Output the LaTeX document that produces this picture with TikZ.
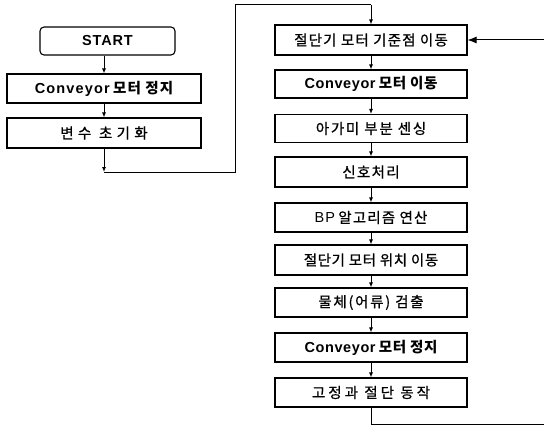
\documentclass[tikz,border=0pt]{standalone}
\usepackage{fontspec}
\setmainfont{Noto Sans CJK KR}[UprightFeatures={FakeBold=0.8}]
\newfontfamily\latfont{Liberation Sans}
\usetikzlibrary{arrows.meta}
\newcommand\lsp[2]{{\addfontfeatures{LetterSpace=#1}#2}}
\newcommand\lat[2]{{\latfont\addfontfeatures{LetterSpace=#1}#2}}
\tikzset{
  fbox/.style={draw, line width=1.1pt, minimum height=29pt, inner sep=0pt,
    font=\fontsize{14.5}{16}\selectfont},
  lbox/.style={fbox, minimum width=194pt},
  rbox/.style={fbox, minimum width=192pt},
  conn/.style={line width=1pt},
  arr/.style={conn, -{Latex[length=5pt,width=4pt]}},
  bigarr/.style={conn, -{Latex[length=9pt,width=7pt]}}
}
\begin{document}
\begin{tikzpicture}[x=1pt,y=-1pt]
\useasboundingbox (0,0) rectangle (544,428);
% left column
\node[fbox, rounded corners=4pt, minimum width=135pt, minimum height=28pt] (start) at (107.5,41) {\bfseries\lat{6}{START}};
\node[lbox] (cstop1) at (104,88.5) {\bfseries\lat{8}{Conveyor} \lsp{8}{모터 정지}};
\node[lbox, minimum height=30pt] (init) at (104,133) {\lsp{30}{변수 초기화}};
% right column
\node[rbox, minimum height=30pt] (r1) at (371,40) {\lsp{8}{절단기 모터 기준점 이동}};
\node[rbox, minimum height=28pt] (r2) at (371,84) {\bfseries\lat{4}{Conveyor} \lsp{4}{모터 이동}};
\node[rbox, minimum height=28pt] (r3) at (371,128.5) {\lsp{12}{아가미 부분 센싱}};
\node[rbox, minimum height=30pt] (r4) at (371,172) {\lsp{9}{신호처리}};
\node[rbox] (r5) at (371,217.5) {\lat{8}{BP} \lsp{8}{알고리즘 연산}};
\node[rbox, minimum height=30pt] (r6) at (371,260) {\lsp{4}{절단기 모터 위치 이동}};
\node[rbox] (r7) at (371,302.5) {\lsp{12}{물체(어류) 검출}};
\node[rbox] (r8) at (371,347.5) {\bfseries\lat{4}{Conveyor} \lsp{4}{모터 정지}};
\node[rbox] (r9) at (371,392.5) {\lsp{21}{고정과 절단 동작}};
% coordinates
\coordinate (c1) at (104,172);
\coordinate (c2) at (235,172);
\coordinate (c3) at (235,5);
\coordinate (c4) at (371,5);
\coordinate (d1) at (371,424);
\coordinate (d2) at (546,424);
\coordinate (d3) at (546,40);
% connectors
\draw[arr] (cstop1.north |- start.south) -- (cstop1.north);
\draw[arr] (cstop1) -- (init);
\draw[arr] (init) -- (c1);
\draw[conn] (c1) -- (c2) -- (c3) -- (c4);
\draw[arr] (c4) -- (r1);
\draw[arr] (r1) -- (r2);
\draw[arr] (r2) -- (r3);
\draw[arr] (r3) -- (r4);
\draw[arr] (r4) -- (r5);
\draw[arr] (r5) -- (r6);
\draw[arr] (r6) -- (r7);
\draw[arr] (r7) -- (r8);
\draw[arr] (r8) -- (r9);
\draw[conn] (r9) -- (d1) -- (d2) -- (d3);
\draw[bigarr] (d3) -- (r1);
\end{tikzpicture}
\end{document}
